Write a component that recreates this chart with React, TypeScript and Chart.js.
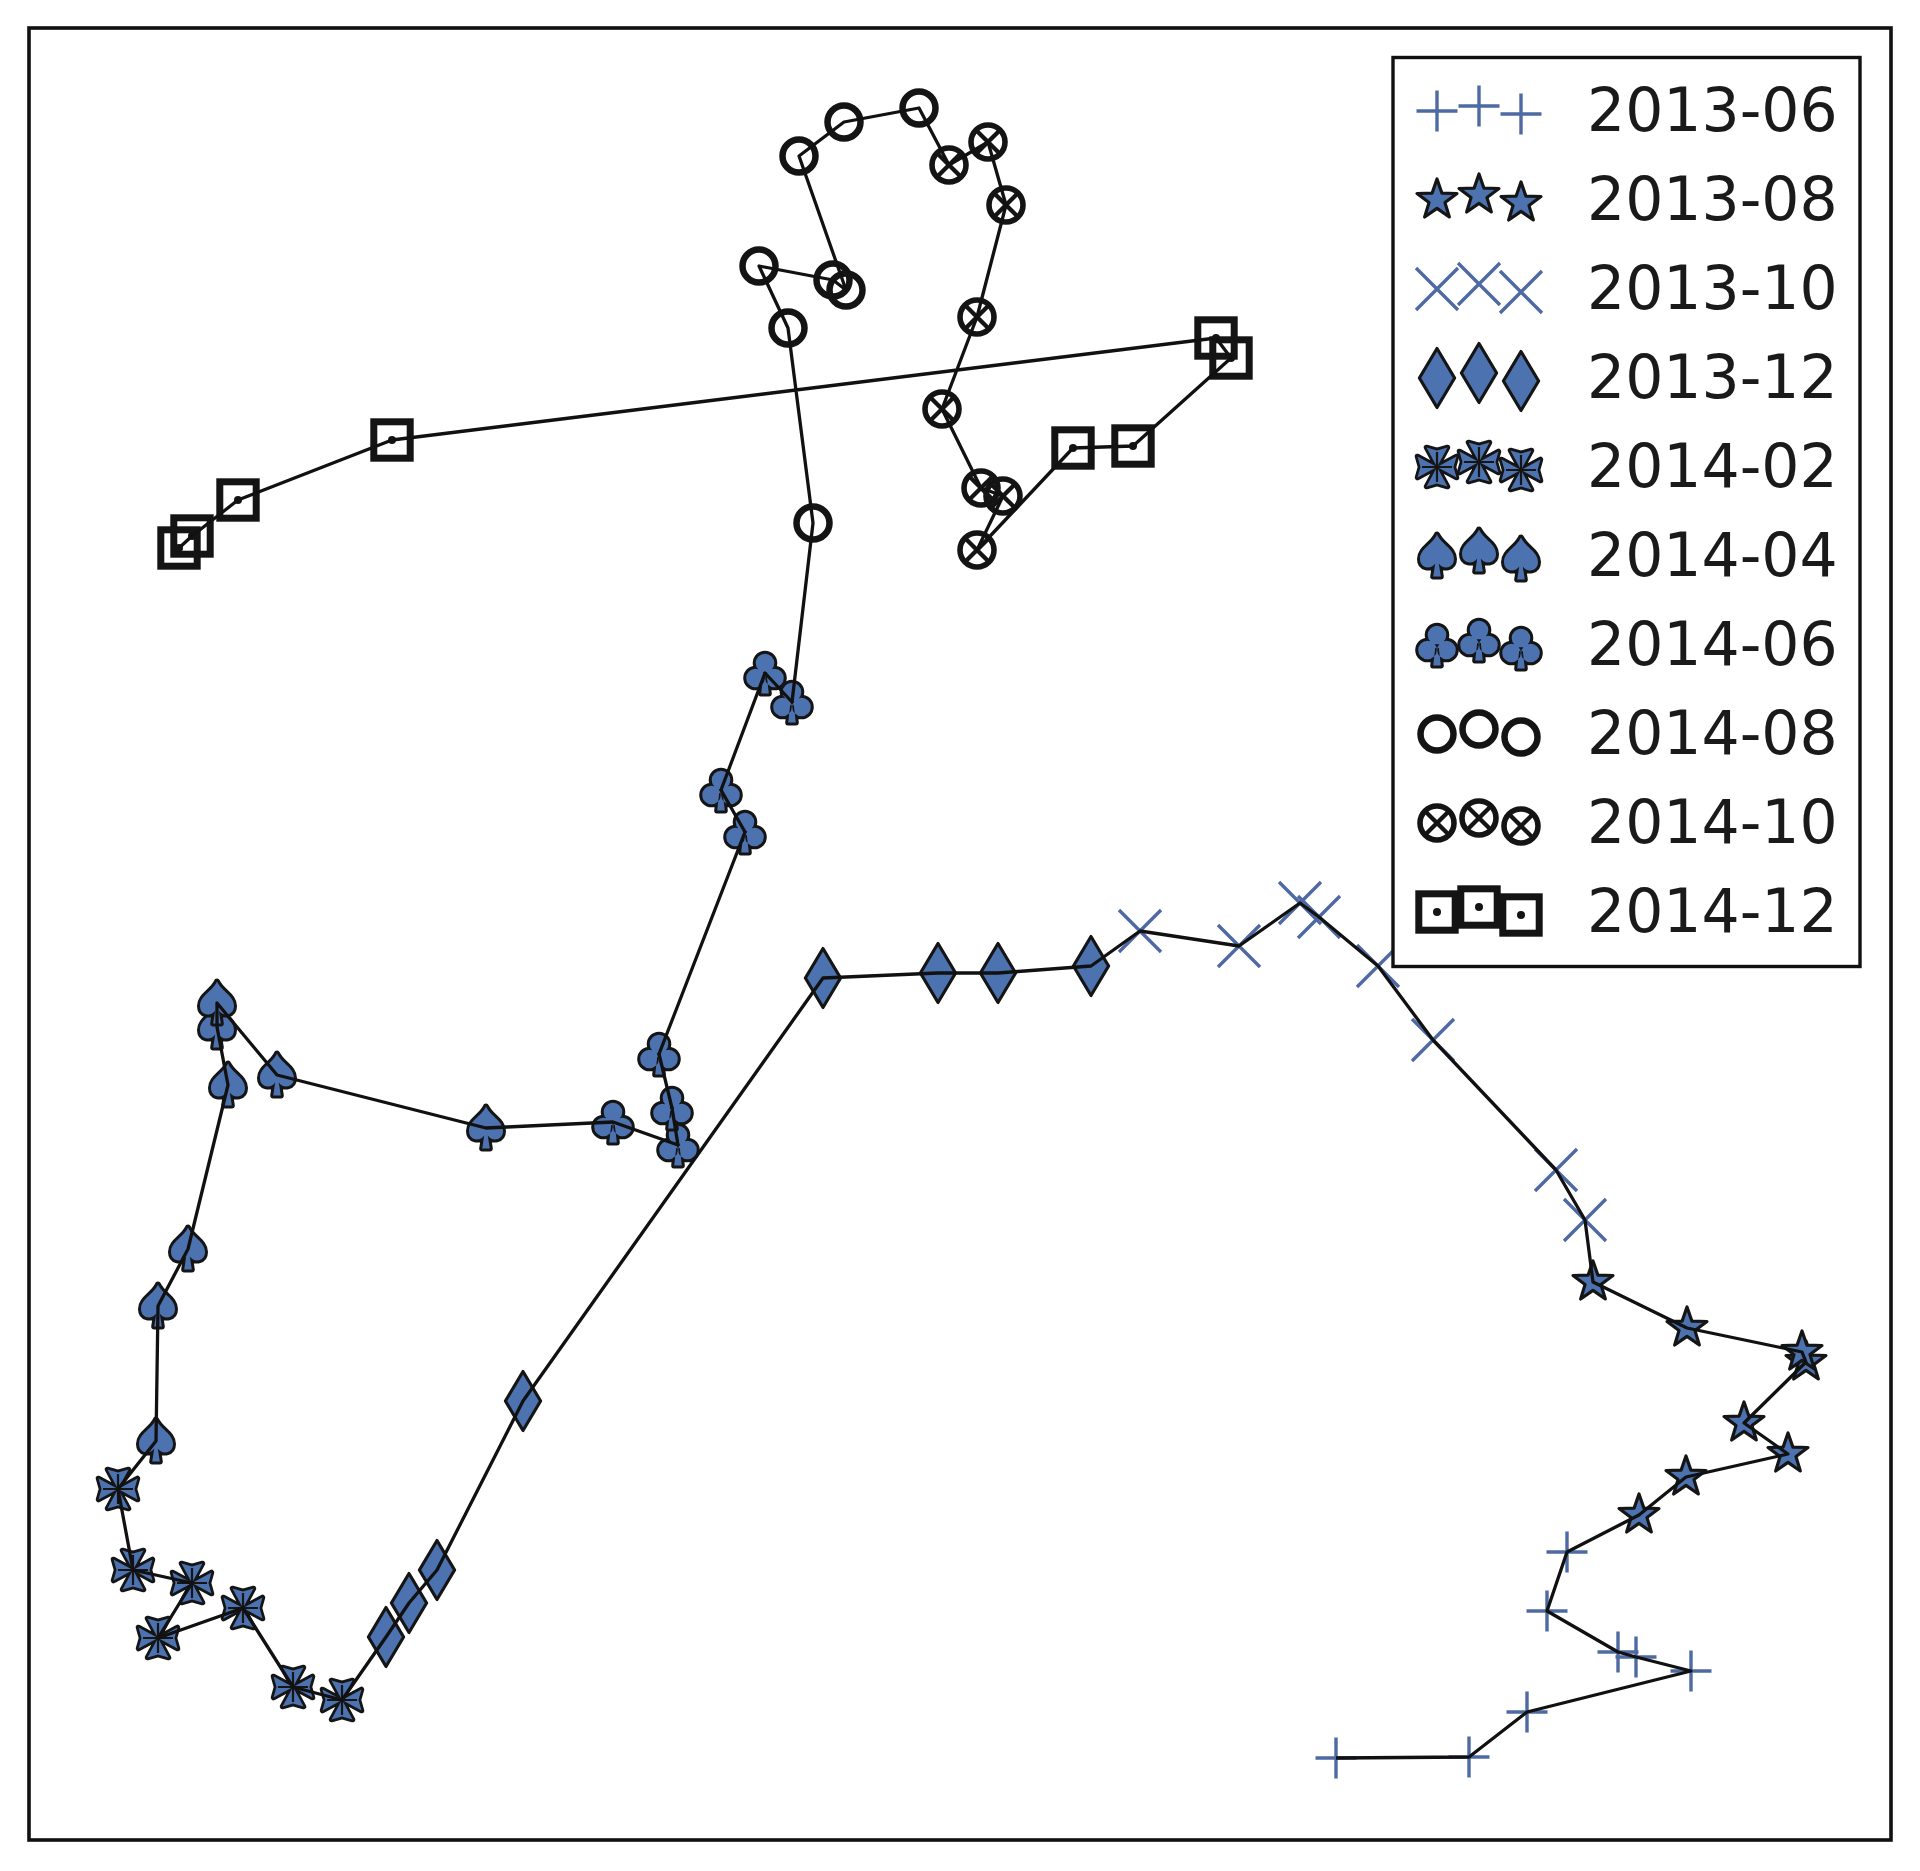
import React, { useEffect, useRef } from 'react';
import { Chart, registerables } from 'chart.js';

Chart.register(...registerables);

// Trajectory coordinates (horizontal position, vertical position) per two-month period
const periods = ['2013-06', '2013-08', '2013-10', '2013-12', '2014-02', '2014-04', '2014-06', '2014-08', '2014-10', '2014-12'];

const jun2013 = [[1336, 1758], [1469, 1757], [1527, 1712], [1691, 1671], [1636, 1657], [1618, 1652], [1547, 1611], [1567, 1552]];
const aug2013 = [[1639, 1515], [1686, 1477], [1788, 1454], [1744, 1423], [1806, 1362], [1802, 1352], [1687, 1328], [1593, 1282]];
const oct2013 = [[1585, 1220], [1556, 1170], [1433, 1040], [1378, 966], [1319, 917], [1300, 903], [1239, 946], [1140, 931]];
const dec2013 = [[1091, 966], [998, 973], [938, 973], [823, 978], [523, 1401], [437, 1570], [409, 1603], [386, 1637]];
const feb2014 = [[342, 1700], [293, 1687], [243, 1608], [158, 1638], [192, 1583], [133, 1570], [118, 1489]];
const apr2014 = [[156, 1441], [158, 1306], [188, 1249], [228, 1085], [217, 1027], [217, 1003], [277, 1075], [486, 1128]];
const jun2014 = [[613, 1122], [678, 1145], [672, 1108], [659, 1054], [745, 832], [721, 790], [765, 673], [792, 702]];
const aug2014 = [[813, 523], [788, 328], [759, 266], [833, 280], [846, 290], [799, 156], [844, 122], [919, 108]];
const oct2014 = [[949, 165], [988, 142], [1006, 205], [977, 317], [942, 409], [981, 488], [1003, 496], [977, 550]];
const dec2014 = [[1073, 448], [1133, 446], [1231, 358], [1216, 338], [392, 440], [238, 500], [192, 536], [179, 548]];

const seriesData = [jun2013, aug2013, oct2013, dec2013, feb2014, apr2014, jun2014, aug2014, oct2014, dec2014];

const X_MIN = 29, X_MAX = 1891, Y_MIN = 28, Y_MAX = 1840;

const BLUE = '#4C72B0';
const LINEBLUE = '#4d6aa3';
const EDGE = '#151515';
const INK = '#141414';

type Ctx = CanvasRenderingContext2D;

function mk(draw: (c: Ctx) => void, size = 70): HTMLCanvasElement {
  const cv = document.createElement('canvas');
  cv.width = size;
  cv.height = size;
  const c = cv.getContext('2d') as Ctx;
  c.translate(size / 2, size / 2);
  draw(c);
  return cv;
}

function outlineFill(c: Ctx, path: () => void, edge = 6) {
  c.beginPath();
  path();
  c.lineJoin = 'round';
  c.lineWidth = edge;
  c.strokeStyle = EDGE;
  c.stroke();
  c.beginPath();
  path();
  c.fillStyle = BLUE;
  c.fill();
}

function makeMarkers(): HTMLCanvasElement[] {
  const plus = mk((c) => {
    c.strokeStyle = LINEBLUE;
    c.lineWidth = 3.4;
    c.beginPath();
    c.moveTo(-20.5, 0); c.lineTo(20.5, 0);
    c.moveTo(0, -20.5); c.lineTo(0, 20.5);
    c.stroke();
  });
  const star = mk((c) => {
    c.beginPath();
    for (let k = 0; k < 10; k++) {
      const r = k % 2 === 0 ? 21 : 8.4;
      const a = -Math.PI / 2 + (k * Math.PI) / 5;
      const px = r * Math.cos(a), py = r * Math.sin(a);
      if (k === 0) c.moveTo(px, py); else c.lineTo(px, py);
    }
    c.closePath();
    c.fillStyle = BLUE;
    c.fill();
    c.lineWidth = 3.2;
    c.lineJoin = 'round';
    c.strokeStyle = EDGE;
    c.stroke();
  });
  const cross = mk((c) => {
    c.strokeStyle = LINEBLUE;
    c.lineWidth = 3.4;
    c.beginPath();
    c.moveTo(-21, -21); c.lineTo(21, 21);
    c.moveTo(21, -21); c.lineTo(-21, 21);
    c.stroke();
  });
  const diamond = mk((c) => {
    c.beginPath();
    c.moveTo(0, -29.5); c.lineTo(17.6, 0); c.lineTo(0, 29.5); c.lineTo(-17.6, 0);
    c.closePath();
    c.fillStyle = BLUE;
    c.fill();
    c.lineWidth = 3.2;
    c.lineJoin = 'round';
    c.strokeStyle = EDGE;
    c.stroke();
  });
  const maltese = mk((c) => {
    const arms = () => {
      for (let k = 0; k < 4; k++) {
        const a = (k * Math.PI) / 2;
        const cs = Math.cos(a), sn = Math.sin(a);
        const pt = (x: number, y: number) => [x * cs - y * sn, x * sn + y * cs];
        const p0 = pt(0, 0), p1 = pt(-10.5, -19.5), p2 = pt(0, -16.5), p3 = pt(10.5, -19.5);
        c.moveTo(p0[0], p0[1]);
        c.lineTo(p1[0], p1[1]);
        c.lineTo(p2[0], p2[1]);
        c.lineTo(p3[0], p3[1]);
        c.closePath();
      }
    };
    outlineFill(c, arms, 5.5);
    c.beginPath();
    c.moveTo(0, -15); c.lineTo(0, 15);
    c.moveTo(-15, 0); c.lineTo(15, 0);
    c.lineWidth = 2.2;
    c.strokeStyle = EDGE;
    c.stroke();
  });
  const spade = mk((c) => {
    const path = () => {
      c.moveTo(0, -21.5);
      c.bezierCurveTo(-5, -11, -17, -7.5, -17, 3);
      c.bezierCurveTo(-17, 12.5, -6, 14, -1.8, 7.5);
      c.lineTo(-3.8, 20.5);
      c.lineTo(3.8, 20.5);
      c.lineTo(1.8, 7.5);
      c.bezierCurveTo(6, 14, 17, 12.5, 17, 3);
      c.bezierCurveTo(17, -7.5, 5, -11, 0, -21.5);
      c.closePath();
    };
    outlineFill(c, path, 6);
  });
  const club = mk((c) => {
    const path = () => {
      c.moveTo(9.3, -10); c.arc(0, -10, 9.3, 0, Math.PI * 2);
      c.moveTo(0, 5); c.arc(-9.5, 5, 9.3, 0, Math.PI * 2);
      c.moveTo(18.8, 5); c.arc(9.5, 5, 9.3, 0, Math.PI * 2);
      c.moveTo(-1.8, 3); c.lineTo(-3.8, 20.5); c.lineTo(3.8, 20.5); c.lineTo(1.8, 3); c.closePath();
    };
    outlineFill(c, path, 6);
  });
  const ring = mk((c) => {
    c.beginPath();
    c.arc(0, 0, 16.5, 0, Math.PI * 2);
    c.lineWidth = 6.5;
    c.strokeStyle = INK;
    c.stroke();
  });
  const otimes = mk((c) => {
    c.beginPath();
    c.arc(0, 0, 17, 0, Math.PI * 2);
    c.lineWidth = 5.6;
    c.strokeStyle = INK;
    c.stroke();
    c.beginPath();
    const d = 11.8;
    c.moveTo(-d, -d); c.lineTo(d, d);
    c.moveTo(d, -d); c.lineTo(-d, d);
    c.lineWidth = 4.3;
    c.stroke();
  });
  const boxdot = mk((c) => {
    c.lineWidth = 7;
    c.lineJoin = 'miter';
    c.strokeStyle = INK;
    c.strokeRect(-18.2, -18.2, 36.4, 36.4);
    c.beginPath();
    c.arc(0, 0, 4, 0, Math.PI * 2);
    c.fillStyle = INK;
    c.fill();
  });
  return [plus, star, cross, diamond, maltese, spade, club, ring, otimes, boxdot];
}

export default function App() {
  const ref = useRef<HTMLCanvasElement | null>(null);

  useEffect(() => {
    const canvas = ref.current;
    if (!canvas) return;
    const markers = makeMarkers();

    const pathPoints = seriesData.flat().map(([x, y]) => ({ x, y }));

    const datasets: any[] = [
      {
        label: 'path',
        data: pathPoints,
        showLine: true,
        borderColor: '#111111',
        borderWidth: 3.3,
        borderJoinStyle: 'round',
        pointRadius: 0,
        tension: 0,
        order: 0,
      },
      ...seriesData.map((pts, i) => ({
        label: periods[i],
        data: pts.map(([x, y]) => ({ x, y })),
        showLine: false,
        pointStyle: markers[i],
        pointRadius: 10,
        order: 20 - i,
      })),
    ];

    const frameAndLegend = {
      id: 'frameAndLegend',
      afterDraw(chart: any) {
        const { ctx, chartArea } = chart;
        ctx.save();
        // axes frame
        ctx.strokeStyle = '#111111';
        ctx.lineWidth = 3.6;
        ctx.strokeRect(chartArea.left, chartArea.top, chartArea.right - chartArea.left, chartArea.bottom - chartArea.top);

        // legend box
        const lw = 467, lh = 909;
        const lx = chartArea.right - 31 - lw;
        const ly = chartArea.top + 29.5;
        ctx.fillStyle = '#ffffff';
        ctx.fillRect(lx, ly, lw, lh);
        ctx.lineWidth = 3.4;
        ctx.strokeStyle = '#111111';
        ctx.strokeRect(lx, ly, lw, lh);

        const fs = 60;
        ctx.font = `${fs}px "DejaVu Sans"`;
        ctx.fillStyle = '#1a1a1a';
        ctx.textBaseline = 'alphabetic';
        ctx.textAlign = 'left';
        const mxs = [44, 86, 127.5];
        const mdy = [2, -3, 5];
        periods.forEach((label, i) => {
          const cy = ly + 51.5 + i * 89;
          const m = markers[i];
          for (let k = 0; k < 3; k++) {
            ctx.drawImage(m, Math.round(lx + mxs[k] - m.width / 2), Math.round(cy + mdy[k] - m.height / 2));
          }
          ctx.fillText(label, lx + 194, cy + fs * 0.365);
        });
        ctx.restore();
      },
    };

    const chart = new Chart(canvas, {
      type: 'scatter',
      data: { datasets },
      options: {
        responsive: false,
        animation: false,
        devicePixelRatio: 1,
        layout: { padding: { left: X_MIN, top: Y_MIN, right: 1920 - X_MAX, bottom: 1871 - Y_MAX } },
        scales: {
          x: { type: 'linear', min: X_MIN, max: X_MAX, display: false },
          y: { type: 'linear', min: Y_MIN, max: Y_MAX, reverse: true, display: false },
        },
        plugins: {
          legend: { display: false },
          tooltip: { enabled: false },
        },
        events: [],
      },
      plugins: [frameAndLegend],
    });

    return () => {
      chart.destroy();
    };
  }, []);

  return (
    <div style={{ position: 'absolute', left: 0, top: 0, width: 1920, height: 1871, background: '#ffffff' }}>
      <canvas ref={ref} width={1920} height={1871} style={{ display: 'block', width: 1920, height: 1871 }} />
    </div>
  );
}
